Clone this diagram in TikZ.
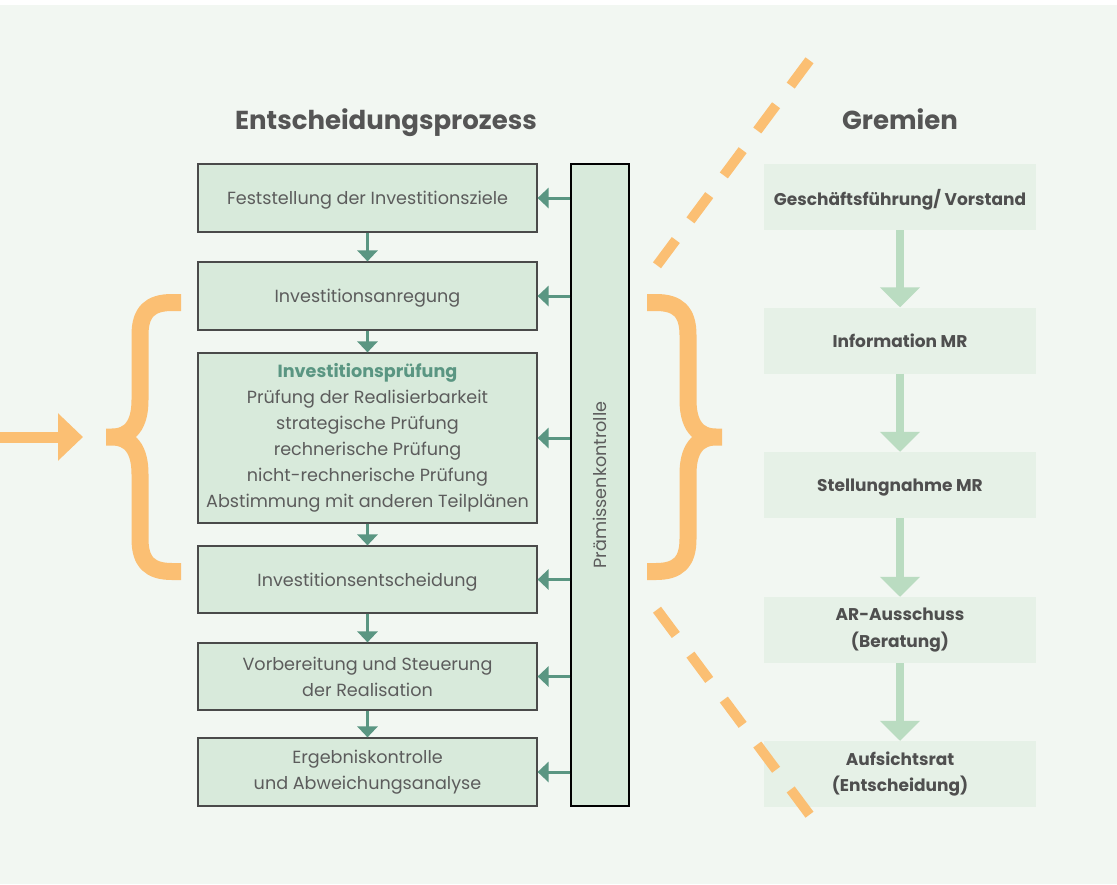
\documentclass[tikz,border=0pt]{standalone}
\usepackage{fontspec}
\setmainfont{Poppins}
\usepackage{tikz}
\usetikzlibrary{arrows.meta,positioning}

\definecolor{bggreen}{HTML}{F2F7F2}
\definecolor{boxfill}{HTML}{D8EADB}
\definecolor{boxline}{HTML}{4A4A4A}
\definecolor{pkteal}{HTML}{5A9682}
\definecolor{txtgray}{HTML}{5C5C5C}
\definecolor{headgray}{HTML}{555555}
\definecolor{gremfill}{HTML}{E6F1E7}
\definecolor{gremarrow}{HTML}{BADCC1}
\definecolor{gremtxt}{HTML}{4F4F4F}
\definecolor{bracecol}{HTML}{FBBF73}

\begin{document}
\begin{tikzpicture}[x=1pt,y=-1pt,
    box/.style={draw=boxline,line width=1.2pt,fill=boxfill,minimum width=339pt,inner sep=0pt,
      text=txtgray,align=center,font=\fontsize{17.6}{26}\selectfont},
    gremium/.style={fill=gremfill,minimum width=272pt,minimum height=66pt,inner sep=0pt,
      text=gremtxt,align=center,font=\fontsize{17}{26.7}\selectfont\bfseries},
    oneline/.style={text depth=0pt},
    flow/.style={draw=pkteal,line width=3pt,-{Triangle[width=20pt,length=11pt]}},
    gremflow/.style={draw=gremarrow,line width=8pt,-{Triangle[width=39pt,length=20pt]}},
    brace/.style={draw=bracecol,line width=17pt},
    dashline/.style={draw=bracecol,line width=10pt,dash pattern=on 31.5pt off 24.5pt},
    title/.style={anchor=base,text=headgray,font=\fontsize{26}{30}\selectfont\bfseries}]
  \useasboundingbox (0,0) rectangle (1117,884);
  \fill[white] (0,0) rectangle (1117,884);
  \fill[bggreen] (0,5) rectangle (1117,884);

  % titles
  \node[title] (prozess) at (386,129) {Entscheidungsprozess};
  \node[title] (gremien) at (900,129) {Gremien};

  % decision process
  \node[box,oneline,minimum height=68pt] (ziele) at (367.5,198) {Feststellung der Investitionsziele};
  \node[box,oneline,minimum height=68pt] (anregung) at (367.5,296) {Investitionsanregung};
  \node[box,minimum height=170pt] (pruefung) at (367.5,438) {\textbf{\color{pkteal}Investitionsprüfung}\\Prüfung der Realisierbarkeit\\strategische Prüfung\\rechnerische Prüfung\\nicht-rechnerische Prüfung\\Abstimmung mit anderen Teilplänen};
  \node[box,oneline,minimum height=67pt] (entscheidung) at (367.5,579.5) {Investitionsentscheidung};
  \node[box,minimum height=67pt] (realisation) at (367.5,676.5) {Vorbereitung und Steuerung\\der Realisation};
  \node[box,minimum height=68pt] (kontrolle) at (367.5,772) {Ergebniskontrolle\\und Abweichungsanalyse};
  \node[draw=black,line width=1.2pt,fill=boxfill,rotate=90,minimum width=642pt,minimum height=58pt,inner sep=0pt,
    text=txtgray,font=\fontsize{17.6}{26}\selectfont] (bar) at (600,485) {Prämissenkontrolle};

  \foreach \a/\b in {ziele/anregung,anregung/pruefung,pruefung/entscheidung,entscheidung/realisation,realisation/kontrolle}
    \draw[flow] (\a) -- (\b);
  \foreach \b in {ziele,anregung,pruefung,entscheidung,realisation,kontrolle}
    \draw[flow] (\b.east -| bar.north) -- (\b.east);

  % committees
  \node[gremium,oneline] (gf) at (900,197) {Geschäftsführung/ Vorstand};
  \node[gremium,oneline] (info) at (900,340.5) {Information MR};
  \node[gremium,oneline] (stellung) at (900,485) {Stellungnahme MR};
  \node[gremium] (ausschuss) at (900,630) {AR-Ausschuss\\(Beratung)};
  \node[gremium] (ar) at (900,774) {Aufsichtsrat\\(Entscheidung)};
  \foreach \a/\b in {gf/info,info/stellung,stellung/ausschuss,ausschuss/ar}
    \draw[gremflow] (\a) -- (\b);

  % input arrow and braces
  \coordinate (quelle) at (0,437);
  \coordinate (ziel) at (83,437);
  \draw[draw=bracecol,line width=11pt,-{Triangle[width=46pt,length=25pt]}] (quelle) -- (ziel);
  \draw[brace] (181,302.5) -- (172,302.5) .. controls (150,302.5) and (140,312) .. (140,335) -- (140,400)
    .. controls (140,425) and (130,437) .. (112,437) -- (106,437)
    (106,437) -- (112,437) .. controls (130,437) and (140,449) .. (140,474) -- (140,539)
    .. controls (140,562) and (150,571.5) .. (172,571.5) -- (181,571.5);
  \draw[brace] (647,302.5) -- (656,302.5) .. controls (678,302.5) and (688,312) .. (688,335) -- (688,400)
    .. controls (688,425) and (698,437) .. (716,437) -- (722,437)
    (722,437) -- (716,437) .. controls (698,437) and (688,449) .. (688,474) -- (688,539)
    .. controls (688,562) and (678,571.5) .. (656,571.5) -- (647,571.5);

  % dashed separators
  \coordinate (oben1) at (809.5,60.3);
  \coordinate (oben2) at (657,265.3);
  \coordinate (unten1) at (657,609.7);
  \coordinate (unten2) at (809.5,814.7);
  \draw[dashline] (oben1) -- (oben2);
  \draw[dashline] (unten2) -- (unten1);
\end{tikzpicture}
\end{document}
